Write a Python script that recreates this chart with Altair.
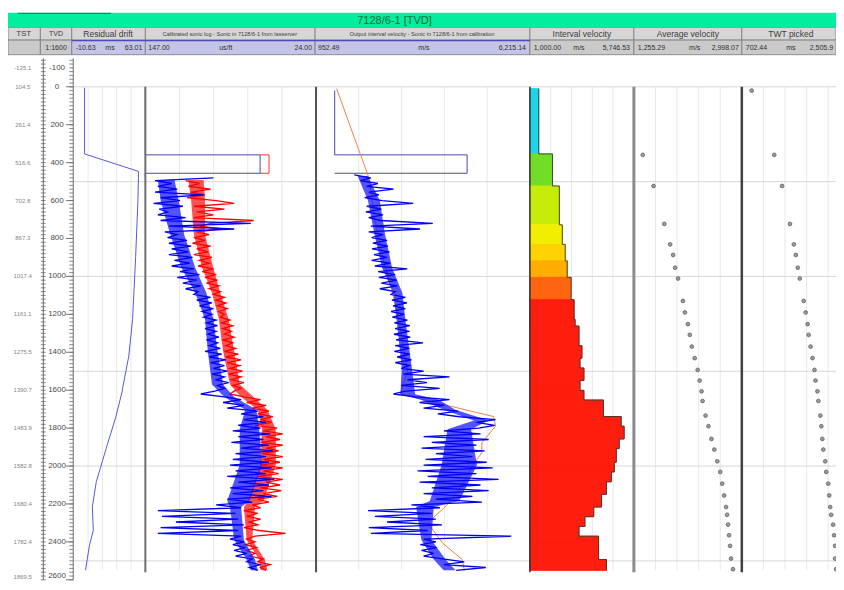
import altair as alt
import numpy as np
import pandas as pd

# ---------------- values ----------------
# Residual drift (ms) against TVD (m)
drift_depth = [5, 354, 446, 482, 610, 900, 1226, 1420, 1585, 1610, 1738, 1908, 2082, 2215, 2338, 2420, 2549]
drift_ms = [0.5, 0.5, 55.9, 55.9, 55.3, 53.0, 49.9, 46.0, 39.8, 39.0, 32.8, 22.7, 12.6, 8.5, 9.5, 5.5, 1.5]

# Sonic track, upper (constant) section, us/ft
sonic_box_depth = [0, 359, 359, 456, 456, 480]
sonic_box_blue = [147, 147, 64.3, 64.3, 147, 147]
sonic_red_box_depth = [359, 359, 456, 456]
sonic_red_box = [64.3, 57.9, 57.9, 64.3]

LOG_STEP = 15  # m between read samples
sonic_blue_start = 480
sonic_blue = [98, 140, 128, 138, 124, 140, 105, 136, 122, 141, 120, 137, 131, 138, 118, 136, 71, 130, 83, 133,
              124, 131, 117, 130, 114, 128, 116, 130, 113, 126, 115, 128, 112, 122, 108, 124, 110, 120, 107, 118,
              109, 112, 100, 110, 99, 108, 98, 106, 99, 105, 96, 103, 95, 104, 96, 102, 94, 103, 95, 101,
              93, 104, 92, 101, 89, 100, 90, 98, 88, 99, 90, 96, 87, 95, 90, 97, 107, 90, 78, 91,
              76, 88, 66, 78, 62, 76, 60, 80, 64, 84, 57, 80, 62, 85, 58, 78, 55, 82, 60, 84,
              58, 86, 56, 82, 60, 88, 54, 80, 58, 86, 62, 84, 56, 88, 70, 96, 78, 138, 82, 135,
              80, 125, 76, 136, 80, 138, 78, 86, 76, 84, 75, 83, 74, 82, 70, 74, 64, 72, 66]
sonic_red_start = 495
sonic_red = [118, 108, 116, 100, 114, 104, 117, 96, 83, 112, 90, 110, 98, 112, 69, 100, 108, 92, 110, 101,
             112, 104, 113, 100, 110, 102, 112, 99, 108, 101, 109, 98, 106, 96, 104, 95, 103, 94, 101, 93,
             98, 90, 96, 89, 95, 88, 94, 90, 93, 86, 92, 84, 91, 85, 90, 83, 91, 84, 89, 82,
             90, 80, 89, 78, 88, 79, 86, 77, 87, 78, 85, 76, 84, 78, 83, 86, 76, 64, 74, 60,
             70, 58, 66, 55, 64, 56, 68, 52, 62, 48, 60, 50, 64, 48, 60, 51, 63, 48, 62, 50,
             64, 48, 62, 51, 66, 48, 60, 50, 64, 49, 62, 52, 66, 58, 70, 64, 76, 66, 74, 64,
             72, 66, 76, 65, 46, 68, 74, 68, 75, 67, 74, 68, 72, 62, 66, 57, 64, 60]

# dense core of the sonic logs (read at zone boundaries), us/ft
sonic_core_depth = [492, 600, 780, 955, 1088, 1226, 1395, 1570, 1636, 1703, 1806, 1995, 2185, 2216, 2390, 2493, 2550]
sonic_blue_lo = [138, 136, 129, 121, 111, 104, 102, 99, 90, 75, 79, 79, 88, 86, 83, 74, 71]
sonic_blue_hi = [126, 123, 119, 111, 103, 98, 95, 91, 83, 67, 65, 63, 72, 78, 76, 68, 66]
sonic_red_lo = [116, 114, 112, 106, 99, 94, 91, 86, 78, 66, 63, 64, 73, 76, 74, 65, 64]
sonic_red_hi = [105, 104, 104, 98, 93, 87, 83, 79, 69, 59, 53, 53, 62, 68, 70, 61, 59]

# Output interval velocity (m/s)
vel_box_depth = [20, 359, 359, 456, 456]
vel_box = [1411, 1411, 4670, 4670, 1411]
vel_out_start = 465
vel_out = [1894, 2300, 2050, 2473, 2200, 2860, 2250, 2500, 2150, 2580, 3342, 2200, 2560, 2180, 2600, 2250, 2540, 3825, 2300, 3511,
           2250, 2600, 2320, 2700, 2350, 2720, 2330, 2760, 2380, 2700, 2320, 2780, 2400, 3197, 2480, 2900, 2500, 2940, 2560, 2950,
           2520, 2900, 2800, 3150, 2820, 3190, 2850, 3150, 2800, 3120, 2830, 3200, 2880, 3260, 2900, 3250, 2870, 3270, 2920, 3584,
           2900, 3250, 2880, 3260, 2950, 3300, 2900, 3250, 3050, 3600, 3100, 4236, 3200, 3680, 3050, 3994, 3150, 2860, 3400, 4236,
           3500, 4100, 3600, 4450, 3950, 4480, 5370, 4900, 5350, 4950, 4100, 5000, 3600, 5200, 3800, 4900, 3550, 5100, 3900, 4800,
           3650, 5150, 3600, 5300, 3450, 4900, 3700, 5442, 3500, 5000, 3800, 5200, 3600, 4800, 3900, 5032, 3300, 4000, 2232, 3800,
           2400, 3900, 2700, 4050, 2250, 3700, 2300, 5756, 3600, 3900, 3520, 3920, 3550, 3850, 3600, 4066, 4600, 4100, 5129, 4400]
vel_core_depth = [470, 600, 780, 955, 1088, 1226, 1482, 1621, 1650, 1703, 1760, 1806, 1995, 2185, 2216, 2390, 2493, 2550]
vel_core_lo = [1976, 2231, 2391, 2579, 2859, 2932, 3062, 3029, 3535, 4090, 4839, 4187, 4043, 3753, 3415, 3545, 3850, 4091]
vel_core_hi = [2222, 2521, 2652, 2825, 3077, 3148, 3308, 3391, 3969, 4380, 5201, 4767, 4911, 4477, 3849, 3791, 4140, 4381]
vel_model_depth = [10, 482, 700, 900, 1100, 1300, 1500, 1621, 1739, 1790, 1877, 1929, 2000, 2100, 2200, 2300, 2406, 2493, 2550]
vel_model = [1459, 2256, 2400, 2600, 2850, 3050, 3200, 3029, 5321, 5370, 5032, 5032, 4800, 4550, 4200, 3700, 4066, 4549, 4600]

# Interval velocity blocks (m/s)
int_top = [10, 354, 523, 728, 831, 918, 1005, 1123, 1226, 1262, 1365, 1431, 1483, 1549, 1601,
           1652, 1739, 1790, 1857, 1908, 1980, 2031, 2083, 2149, 2216, 2267, 2319, 2370, 2493]
int_bot = [354, 523, 728, 831, 918, 1005, 1123, 1226, 1262, 1365, 1431, 1483, 1549, 1601, 1652,
           1739, 1790, 1857, 1908, 1980, 2031, 2083, 2149, 2216, 2267, 2319, 2370, 2493, 2550]
int_vel = [1403, 2030, 2343, 2478, 2612, 2702, 2881, 3015, 3060, 3239, 3373, 3284, 3463, 3284, 3463,
           4358, 5164, 5299, 5075, 4941, 4851, 4717, 4493, 4269, 3911, 3508, 3239, 4134, 4493]

# Average velocity picks (m/s)
avg_depth = [359, 523, 723, 831, 887, 954, 1011, 1129, 1190, 1252, 1308, 1370, 1431, 1493, 1549, 1606,
             1657, 1734, 1790, 1857, 1913, 1975, 2031, 2093, 2155, 2216, 2257, 2309, 2365, 2421, 2488, 2544]
avg_vel = [1398, 1572, 1746, 1841, 1889, 1921, 1968, 2047, 2079, 2127, 2158, 2190, 2237, 2285, 2317, 2348,
           2364, 2412, 2459, 2507, 2554, 2602, 2649, 2681, 2713, 2744, 2760, 2776, 2792, 2808, 2824, 2855]

# TWT picks (ms)
twt_depth = [20, 359, 523, 723, 831, 887, 954, 1011, 1129, 1190, 1252, 1308, 1370, 1431, 1493, 1549, 1606,
             1657, 1734, 1790, 1857, 1913, 1975, 2031, 2093, 2155, 2216, 2257, 2309, 2365, 2421, 2488, 2544]
twt_ms = [52, 514, 675, 836, 916, 956, 996, 1037, 1117, 1157, 1197, 1218, 1258, 1298, 1338, 1358, 1398,
          1418, 1459, 1479, 1499, 1519, 1559, 1579, 1620, 1640, 1660, 1680, 1720, 1740, 1760, 1760, 1780]

# Depth axis labels
tvd_labels = [-100, 0, 200, 400, 600, 800, 1000, 1200, 1400, 1600, 1800, 2000, 2200, 2400, 2600]
tst_labels = ["-135.1", "104.5", "261.4", "516.6", "702.8", "867.3", "1017.4", "1161.1", "1275.5",
              "1390.7", "1483.9", "1582.8", "1680.4", "1782.4", "1869.5"]

# Header texts
title_text = "7128/6-1 [TVD]"
head_row1 = ["TST", "TVD", "Residual drift",
             "Calibrated sonic log - Sonic in 7128/6-1 from lasserver",
             "Output interval velocity - Sonic in 7128/6-1 from calibration",
             "Interval velocity", "Average velocity", "TWT picked"]

# ---------------- layout ----------------
W, H = 828, 574
SX, SY = W / 844.0, H / 590.0


def px(v):
    return round(v * SX, 2)


def py(v):
    return round(v * SY, 2)


DEPTH_MAX = 2550
Y_TOP, Y_BOT = 81, 578
FONT = "Liberation Sans"

TRACKS = {
    "drift": (67, 140, -10.63, 63.01),
    "sonic": (314, 140, 24.0, 147.0),
    "vout": (314, 532, 952.49, 6215.14),
    "vint": (532, 638, 1000.0, 5746.53),
    "vavg": (638, 748, 1255.29, 2998.07),
    "twt": (748, 858, -150.0, 2060.0),
}


def ys():
    return alt.Scale(domain=[0, DEPTH_MAX], range=[py(Y_TOP), py(Y_BOT)], nice=False, zero=False)


def xs(track):
    x0, x1, lo, hi = TRACKS[track]
    return alt.Scale(domain=[lo, hi], range=[px(x0), px(x1)], nice=False, zero=False)


PXX = alt.Scale(domain=[0, 844], range=[0, W], nice=False, zero=False)
PXY = alt.Scale(domain=[0, 590], range=[0, H], nice=False, zero=False)

layers = []

# vertical grid lines inside each track
for name in TRACKS:
    x0, x1, lo, hi = TRACKS[name]
    g = pd.DataFrame({"v": np.linspace(lo, hi, 6)[1:-1]})
    g["d0"] = 0
    g["d1"] = DEPTH_MAX
    layers.append(alt.Chart(g).mark_rule(color="#e8e8ee", strokeWidth=1).encode(
        x=alt.X("v:Q", scale=xs(name), axis=None),
        y=alt.Y("d0:Q", scale=ys(), axis=None), y2="d1:Q"))

# horizontal grid lines
hg = pd.DataFrame({"d": [0, 500, 1000, 1500, 2000, 2500]})
layers.append(alt.Chart(hg).mark_rule(color="#d6d6d6", strokeWidth=1).encode(
    y=alt.Y("d:Q", scale=ys(), axis=None), x=alt.value(px(67)), x2=alt.value(W)))

# interval velocity blocks
iv = pd.DataFrame({"top": int_top, "bot": int_bot, "v": int_vel})
iv["lo"] = TRACKS["vint"][2]
col_scale = alt.Scale(domain=[1403, 2030, 2343, 2478, 2612, 2702, 2881, 3015],
                      range=["#1ed4e6", "#72dc26", "#c8ec0a", "#f2ee00", "#ffd200", "#ffae00", "#ff6410", "#ff1e0e"],
                      clamp=True)
layers.append(alt.Chart(iv).mark_rect(strokeWidth=1).encode(
    x=alt.X("lo:Q", scale=xs("vint"), axis=None), x2="v:Q",
    y=alt.Y("top:Q", scale=ys(), axis=None), y2="bot:Q",
    color=alt.Color("v:Q", scale=col_scale, legend=None),
    stroke=alt.Stroke("v:Q", scale=col_scale, legend=None)))
step_d, step_v = [], []
for t, b, v in zip(int_top, int_bot, int_vel):
    step_d += [t, b]
    step_v += [v, v]


def curve(depths, values, track, color, width=1.0, opacity=1.0):
    df = pd.DataFrame({"depth": depths, "v": values, "i": range(len(values))})
    return alt.Chart(df).mark_line(color=color, strokeWidth=width, opacity=opacity).encode(
        x=alt.X("v:Q", scale=xs(track), axis=None),
        y=alt.Y("depth:Q", scale=ys(), axis=None),
        order=alt.Order("i:Q"))


def band(depths, lo, hi, track, color, opacity=0.9):
    df = pd.DataFrame({"depth": depths, "lo": lo, "hi": hi})
    return alt.Chart(df).mark_area(orient="horizontal", color=color, opacity=opacity).encode(
        y=alt.Y("depth:Q", scale=ys(), axis=None),
        x=alt.X("lo:Q", scale=xs(track), axis=None), x2="hi:Q")


def log_depths(start, vals):
    return [start + LOG_STEP * i for i in range(len(vals))]


layers.append(curve(step_d, step_v, "vint", "#3a3a3a", 0.9))

# residual drift
layers.append(curve(drift_depth, drift_ms, "drift", "#5a5ad8", 1.0))

# sonic track
layers.append(curve(sonic_box_depth, sonic_box_blue, "sonic", "#4848b0", 1.0))
layers.append(curve(sonic_red_box_depth, sonic_red_box, "sonic", "#ff3030", 1.0))
layers.append(band(sonic_core_depth, sonic_red_lo, sonic_red_hi, "sonic", "#ff1a1a", 0.75))
layers.append(curve(log_depths(sonic_red_start, sonic_red), sonic_red, "sonic", "#ff0000", 1.3))
layers.append(band(sonic_core_depth, sonic_blue_lo, sonic_blue_hi, "sonic", "#1a1aff", 0.75))
layers.append(curve(log_depths(sonic_blue_start, sonic_blue), sonic_blue, "sonic", "#0000f0", 1.3))

# output velocity track
layers.append(curve(vel_box_depth, vel_box, "vout", "#4848b0", 1.0))
layers.append(curve(vel_model_depth, vel_model, "vout", "#ee8050", 1.0))
layers.append(band(vel_core_depth, vel_core_lo, vel_core_hi, "vout", "#1a1aff", 0.75))
layers.append(curve(log_depths(vel_out_start, vel_out), vel_out, "vout", "#0000f0", 1.3))

# track borders
borders = pd.DataFrame({"x": [140, 314, 532, 638, 748], "w": [2, 2, 1.5, 3, 2.5],
                        "c": ["#6e6e6e", "#505050", "#2e2e2e", "#8c8c8c", "#404040"]})
borders["d0"] = 0
borders["d1"] = 2560
layers.append(alt.Chart(borders).mark_rule().encode(
    x=alt.X("x:Q", scale=PXX, axis=None),
    y=alt.Y("d0:Q", scale=ys(), axis=None), y2="d1:Q",
    color=alt.Color("c:N", scale=None),
    strokeWidth=alt.StrokeWidth("w:Q", scale=None)))

# average velocity and TWT picks
avg_df = pd.DataFrame({"depth": avg_depth, "v": avg_vel})
layers.append(alt.Chart(avg_df).mark_circle(size=14, color="#9c9c9c", stroke="#5e5e5e",
                                            strokeWidth=0.8, opacity=1).encode(
    x=alt.X("v:Q", scale=xs("vavg"), axis=None),
    y=alt.Y("depth:Q", scale=ys(), axis=None)))
twt_df = pd.DataFrame({"depth": twt_depth, "v": twt_ms})
layers.append(alt.Chart(twt_df).mark_circle(size=14, color="#9c9c9c", stroke="#5e5e5e",
                                            strokeWidth=0.8, opacity=1).encode(
    x=alt.X("v:Q", scale=xs("twt"), axis=None),
    y=alt.Y("depth:Q", scale=ys(), axis=None)))

# depth ruler
ticks = pd.DataFrame({"d": np.arange(-140, 2601, 20)})
major = ticks[ticks["d"] % 200 == 0]
for xa, xb in [(33.5, 38.5), (62.5, 66.5)]:
    layers.append(alt.Chart(ticks).mark_rule(color="#6a6a6a", strokeWidth=0.8).encode(
        y=alt.Y("d:Q", scale=ys(), axis=None), x=alt.value(px(xa)), x2=alt.value(px(xb))))
layers.append(alt.Chart(major).mark_rule(color="#6a6a6a", strokeWidth=0.9).encode(
    y=alt.Y("d:Q", scale=ys(), axis=None), x=alt.value(px(59)), x2=alt.value(px(66.5))))
ruler = pd.DataFrame({"d0": [-150, -150], "d1": [2600, 2600], "x": [36, 66.5]})
layers.append(alt.Chart(ruler).mark_rule(color="#6a6a6a", strokeWidth=1).encode(
    x=alt.X("x:Q", scale=PXX, axis=None),
    y=alt.Y("d0:Q", scale=ys(), axis=None), y2="d1:Q"))

lab = pd.DataFrame({"d": tvd_labels, "t": [str(v) for v in tvd_labels], "s": tst_labels})
lab_mid = lab.iloc[:-1]
lab_end = lab.iloc[-1:]
for d, bl in [(lab_mid, "middle"), (lab_end, "bottom")]:
    layers.append(alt.Chart(d).mark_text(align="center", baseline=bl, font=FONT, fontSize=8,
                                         color="#4a4a4a").encode(
        x=alt.value(px(50)), y=alt.Y("d:Q", scale=ys(), axis=None), text="t:N"))
    layers.append(alt.Chart(d).mark_text(align="center", baseline=bl, font=FONT, fontSize=6,
                                         color="#858585").encode(
        x=alt.value(px(15)), y=alt.Y("d:Q", scale=ys(), axis=None), text="s:N"))

# ---------------- header ----------------
cell_x = [0, 33, 65, 140, 313, 532, 638, 748, 844]
hdr = []
for i in range(8):
    hdr.append({"x0": cell_x[i], "x1": cell_x[i + 1], "y0": 20, "y1": 33, "f": "#d6d6d6"})
    hdr.append({"x0": cell_x[i], "x1": cell_x[i + 1], "y0": 33, "y1": 48,
                "f": "#c4c4e6" if 2 <= i <= 4 else "#cacaca"})
hdr_df = pd.DataFrame(hdr)
layers.append(alt.Chart(hdr_df).mark_rect(stroke="#7a7a7a", strokeWidth=0.8).encode(
    x=alt.X("x0:Q", scale=PXX, axis=None), x2="x1:Q",
    y=alt.Y("y0:Q", scale=PXY, axis=None), y2="y1:Q",
    color=alt.Color("f:N", scale=None)))
green = pd.DataFrame({"x0": [0], "x1": [844], "y0": [5], "y1": [20]})
layers.append(alt.Chart(green).mark_rect(color="#00ee9e").encode(
    x=alt.X("x0:Q", scale=PXX, axis=None), x2="x1:Q",
    y=alt.Y("y0:Q", scale=PXY, axis=None), y2="y1:Q"))
topline = pd.DataFrame({"x0": [10], "x1": [105], "y": [5.5]})
layers.append(alt.Chart(topline).mark_rule(color="#2f6a58", strokeWidth=1).encode(
    x=alt.X("x0:Q", scale=PXX, axis=None), x2="x1:Q",
    y=alt.Y("y:Q", scale=PXY, axis=None)))
blue_sep = pd.DataFrame({"x0": [65], "x1": [532], "y": [33.5]})
layers.append(alt.Chart(blue_sep).mark_rule(color="#4a4ab8", strokeWidth=1.2).encode(
    x=alt.X("x0:Q", scale=PXX, axis=None), x2="x1:Q",
    y=alt.Y("y:Q", scale=PXY, axis=None)))

title_df = pd.DataFrame({"x": [394], "y": [13], "t": [title_text]})
layers.append(alt.Chart(title_df).mark_text(align="center", baseline="middle", font=FONT, fontSize=11,
                                            color="#0e6a3a").encode(
    x=alt.X("x:Q", scale=PXX, axis=None), y=alt.Y("y:Q", scale=PXY, axis=None), text="t:N"))

r1 = pd.DataFrame({"x": [16, 49, 102, 226, 422, 585, 693, 798], "y": 27, "t": head_row1,
                   "fs": [8, 7, 8.5, 5.6, 5.6, 8.5, 8.5, 8.5]})
layers.append(alt.Chart(r1).mark_text(align="center", baseline="middle", font=FONT,
                                      color="#3c3c3c").encode(
    x=alt.X("x:Q", scale=PXX, axis=None), y=alt.Y("y:Q", scale=PXY, axis=None), text="t:N",
    size=alt.Size("fs:Q", scale=None)))

r2_left = pd.DataFrame({"x": [69, 143, 316, 536, 642, 752], "y": 41,
                        "t": ["-10.63", "147.00", "952.49", "1,000.00", "1,255.29", "702.44"]})
r2_mid = pd.DataFrame({"x": [49, 104, 222, 424, 582, 700, 798], "y": 41,
                       "t": ["1:1600", "ms", "us/ft", "m/s", "m/s", "m/s", "ms"]})
r2_right = pd.DataFrame({"x": [137, 310, 528, 634, 745, 841], "y": 41,
                         "t": ["63.01", "24.00", "6,215.14", "5,746.53", "2,998.07", "2,505.9"]})
for d, al in [(r2_left, "left"), (r2_mid, "center"), (r2_right, "right")]:
    layers.append(alt.Chart(d).mark_text(align=al, baseline="middle", font=FONT, fontSize=7,
                                         color="#303030").encode(
        x=alt.X("x:Q", scale=PXX, axis=None), y=alt.Y("y:Q", scale=PXY, axis=None), text="t:N"))

chart = alt.layer(*layers).resolve_scale(
    x="independent", y="independent", color="independent", size="independent",
    strokeWidth="independent", stroke="independent"
).properties(
    width=W, height=H, padding=0, autosize=alt.AutoSizeParams(type="none")
).configure_view(stroke=None)

chart.save("out.html", embed_options={"renderer": "svg", "actions": False})
